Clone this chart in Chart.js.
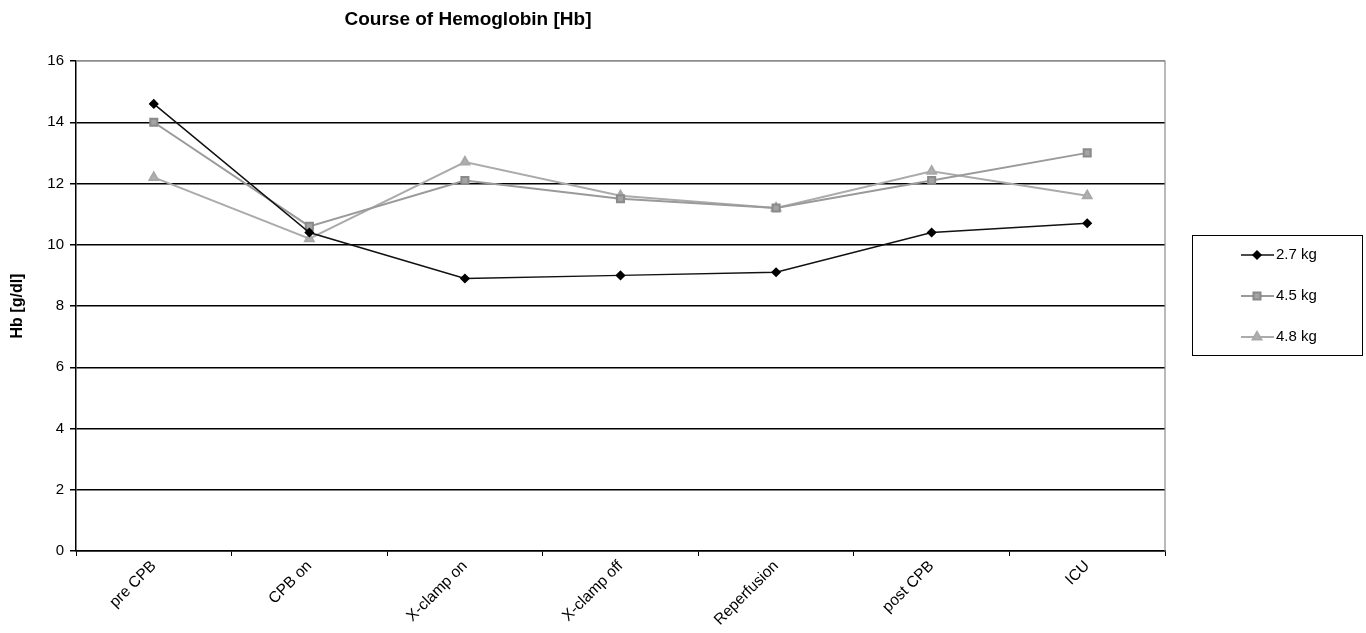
<!DOCTYPE html>
<html>
<head>
<meta charset="utf-8">
<script src="https://cdn.jsdelivr.net/npm/chart.js@4"></script>
<style>
  html, body { margin: 0; padding: 0; background: #fff; }
  #wrap { width: 1366px; height: 633px; }
</style>
</head>
<body>
<div id="wrap"><canvas id="hbChart" width="1366" height="633"></canvas></div>
<script>
// Course of Hemoglobin
const stages = ['pre CPB', 'CPB on', 'X-clamp on', 'X-clamp off', 'Reperfusion', 'post CPB', 'ICU'];
const hb27 = [14.6, 10.4, 8.9, 9.0, 9.1, 10.4, 10.7];
const hb45 = [14.0, 10.6, 12.1, 11.5, 11.2, 12.1, 13.0];
const hb48 = [12.2, 10.2, 12.7, 11.6, 11.2, 12.4, 11.6];
const seriesNames = ['2.7 kg', '4.5 kg', '4.8 kg'];
const yTicks = [0, 2, 4, 6, 8, 10, 12, 14, 16];

const FONT = 'Arial, "Liberation Sans", sans-serif';

// title, frame and boxed legend drawn on the canvas
const extras = {
  id: 'extras',
  afterDraw(chart) {
    const ctx = chart.ctx;
    const a = chart.chartArea;
    ctx.save();
    // gray frame top/right
    ctx.strokeStyle = '#8c8c8c';
    ctx.lineWidth = 1.2;
    ctx.beginPath();
    ctx.moveTo(a.left, a.top);
    ctx.lineTo(a.right, a.top);
    ctx.lineTo(a.right, a.bottom);
    ctx.stroke();

    // title
    ctx.fillStyle = '#000';
    ctx.font = 'bold 19px ' + FONT;
    ctx.textAlign = 'center';
    ctx.textBaseline = 'middle';
    ctx.fillText('Course of Hemoglobin [Hb]', 468, 20);

    // legend box
    const bx = 1192, by = 235, bw = 170, bh = 120;
    ctx.strokeStyle = '#000';
    ctx.lineWidth = 1;
    ctx.strokeRect(bx + 0.5, by + 0.5, bw, bh);
    chart.data.datasets.forEach((ds, i) => {
      const y = 255 + i * 41;
      ctx.strokeStyle = ds.borderColor;
      ctx.lineWidth = ds.borderWidth;
      ctx.beginPath();
      ctx.moveTo(1241, y);
      ctx.lineTo(1274, y);
      ctx.stroke();
      ctx.fillStyle = ds.pointBackgroundColor;
      ctx.strokeStyle = ds.pointBorderColor;
      Chart.helpers.drawPoint(ctx, {
        pointStyle: ds.pointStyle,
        radius: ds.pointRadius,
        borderWidth: 1
      }, 1257, y);
      ctx.fillStyle = '#000';
      ctx.font = '15px ' + FONT;
      ctx.textAlign = 'left';
      ctx.fillText(ds.label, 1276, y);
    });
    ctx.restore();
  }
};

new Chart(document.getElementById('hbChart'), {
  type: 'line',
  data: {
    labels: stages,
    datasets: [
      {
        label: seriesNames[0], data: hb27,
        borderColor: '#111', backgroundColor: '#000', borderWidth: 1.5,
        pointStyle: 'rectRot', pointRadius: 4, pointBorderColor: '#000', pointBackgroundColor: '#000'
      },
      {
        label: seriesNames[1], data: hb45,
        borderColor: '#9a9a9a', backgroundColor: '#999', borderWidth: 2,
        pointStyle: 'rect', pointRadius: 5, pointBorderColor: '#8a8a8a', pointBackgroundColor: '#a3a3a3'
      },
      {
        label: seriesNames[2], data: hb48,
        borderColor: '#ababab', backgroundColor: '#aaa', borderWidth: 2,
        pointStyle: 'triangle', pointRadius: 5, pointBorderColor: '#a8a8a8', pointBackgroundColor: '#b0b0b0'
      }
    ]
  },
  options: {
    responsive: false,
    animation: false,
    layout: { padding: { left: 8, right: 201, top: 61, bottom: 0 } },
    plugins: {
      legend: { display: false },
      title: { display: false },
      tooltip: { enabled: false }
    },
    scales: {
      x: {
        offset: true,
        afterFit(scale) { scale.height = 82; },
        grid: {
          offset: true,
          drawOnChartArea: false,
          drawTicks: true,
          tickLength: 5,
          tickColor: '#000'
        },
        border: { color: '#000', width: 1.5 },
        ticks: {
          color: '#000',
          font: { family: FONT, size: 15.5 },
          minRotation: 45,
          maxRotation: 45,
          padding: 1
        }
      },
      y: {
        min: 0,
        max: 16,
        afterFit(scale) { scale.width = 68; },
        afterBuildTicks(scale) { scale.ticks = yTicks.map(v => ({ value: v })); },
        grid: {
          color: ctx => (ctx.tick && ctx.tick.value === 16) ? '#8c8c8c' : '#000',
          lineWidth: 1.5,
          tickLength: 6,
          tickColor: '#000'
        },
        border: { color: '#000', width: 1.5 },
        ticks: {
          color: '#000',
          font: { family: FONT, size: 15 },
          padding: 6
        },
        title: {
          display: true,
          text: 'Hb [g/dl]',
          color: '#000',
          font: { family: FONT, size: 16, weight: 'bold' },
          padding: { top: 0, bottom: 12 }
        }
      }
    }
  },
  plugins: [extras]
});
</script>
</body>
</html>
